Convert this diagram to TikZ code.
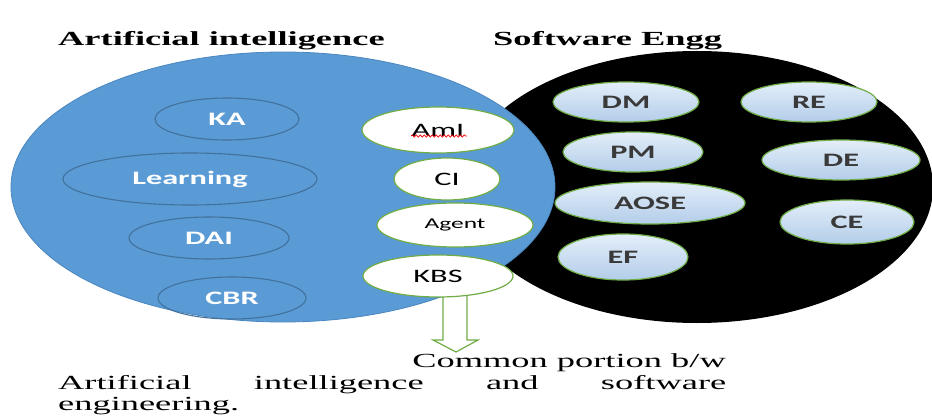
\documentclass[tikz,border=0pt]{standalone}
\usepackage{fontspec}
\usetikzlibrary{shapes.geometric,decorations.pathmorphing,calc}
\newfontfamily\serifw[FakeStretch=1.82]{Liberation Serif}
\newfontfamily\calw[FakeStretch=1.7]{Carlito}
\definecolor{aiblue}{HTML}{5B9BD5}
\definecolor{aiblueedge}{HTML}{4A86C0}
\definecolor{itemedge}{HTML}{41719C}
\definecolor{leafgreen}{HTML}{70AD47}
\definecolor{lighttop}{HTML}{E3EEF9}
\definecolor{lightbot}{HTML}{B3CDE9}
\definecolor{darktext}{HTML}{3A3A3A}
\tikzset{
  blueitem/.style={ellipse, draw=itemedge, line width=1.1pt, inner sep=0pt, text=white,
    font=\calw\bfseries\fontsize{19}{19}\selectfont},
  whiteitem/.style={ellipse, draw=leafgreen, fill=white, line width=1.2pt, inner sep=0pt, text=black,
    font=\calw\fontsize{19}{19}\selectfont},
  seitem/.style={ellipse, draw=leafgreen, line width=1.2pt, inner sep=0pt, text=darktext,
    top color=lighttop, bottom color=lightbot,
    font=\calw\bfseries\fontsize{19}{19}\selectfont},
  titletext/.style={inner sep=0pt, anchor=base west, font=\serifw\bfseries\fontsize{20}{20}\selectfont},
  bodytext/.style={inner sep=0pt, font=\serifw\fontsize{20}{20}\selectfont},
}
\begin{document}
\begin{tikzpicture}[x=1pt,y=-1pt]
\useasboundingbox[fill=white] (0,0) rectangle (932,417);
% Venn ellipses
\node[ellipse, fill=black, inner sep=0pt, minimum width=472pt, minimum height=272pt] (se) at (697,187) {};
\node[ellipse, fill=aiblue, draw=aiblueedge, line width=0.8pt, inner sep=0pt, minimum width=544pt, minimum height=270pt] (ai) at (283,187) {};
% titles
\node[titletext] (aititle) at (58,46) {Artificial intelligence};
\node[titletext] (setitle) at (493,46) {Software Engg};
% AI-only items
\node[blueitem, minimum width=144pt, minimum height=42pt] (KA) at (227,119) {KA};
\node[blueitem, minimum width=254pt, minimum height=52pt] (Learning) at (190,179) {Learning};
\node[blueitem, minimum width=160pt, minimum height=42pt] (DAI) at (209,238) {DAI};
\node[blueitem, minimum width=148pt, minimum height=42pt] (CBR) at (232,298) {CBR};
% SE-only items
\node[seitem, minimum width=146pt, minimum height=40pt] (DM) at (626,102) {DM};
\node[seitem, minimum width=136pt, minimum height=40pt] (RE) at (809,102) {RE};
\node[seitem, minimum width=140pt, minimum height=40pt] (PM) at (633,152) {PM};
\node[seitem, minimum width=158pt, minimum height=40pt] (DE) at (841,160) {DE};
\node[seitem, minimum width=190pt, minimum height=42pt] (AOSE) at (650,203) {AOSE};
\node[seitem, minimum width=134pt, minimum height=44pt] (CE) at (847,222) {CE};
\node[seitem, minimum width=130pt, minimum height=46pt] (EF) at (623,257) {EF};
% arrow from KBS to caption
\coordinate (tip) at (456,352);
\draw[leafgreen, line width=1.2pt, fill=white, line join=miter]
  (443,296) -- (443,340) -- (433,340) -- (tip) -- (478,340) -- (467,340) -- (467,296);
% common items
\node[whiteitem, minimum width=152pt, minimum height=46pt] (AmI) at (438,130) {AmI};
\node[whiteitem, minimum width=106pt, minimum height=42pt] (CI) at (447,179) {CI};
\node[whiteitem, minimum width=156pt, minimum height=44pt, font=\calw\fontsize{15}{15}\selectfont] (Agent) at (455,225) {Agent};
\node[whiteitem, minimum width=150pt, minimum height=42pt] (KBS) at (438,276) {KBS};
\draw[red, line width=0.7pt, decorate, decoration={snake, amplitude=1.2pt, segment length=4pt}]
  ($(AmI.center)+(-27,6)$) -- ($(AmI.center)+(29,6)$);
% caption
\node[bodytext, anchor=base east] (cap1) at (726,367) {Common portion b/w};
\node[bodytext, anchor=base west] (cap2) at (58,389) {\makebox[668pt][s]{Artificial\hfill intelligence\hfill and\hfill software}};
\node[bodytext, anchor=base west] (cap3) at (58,410) {engineering.};
\end{tikzpicture}
\end{document}
